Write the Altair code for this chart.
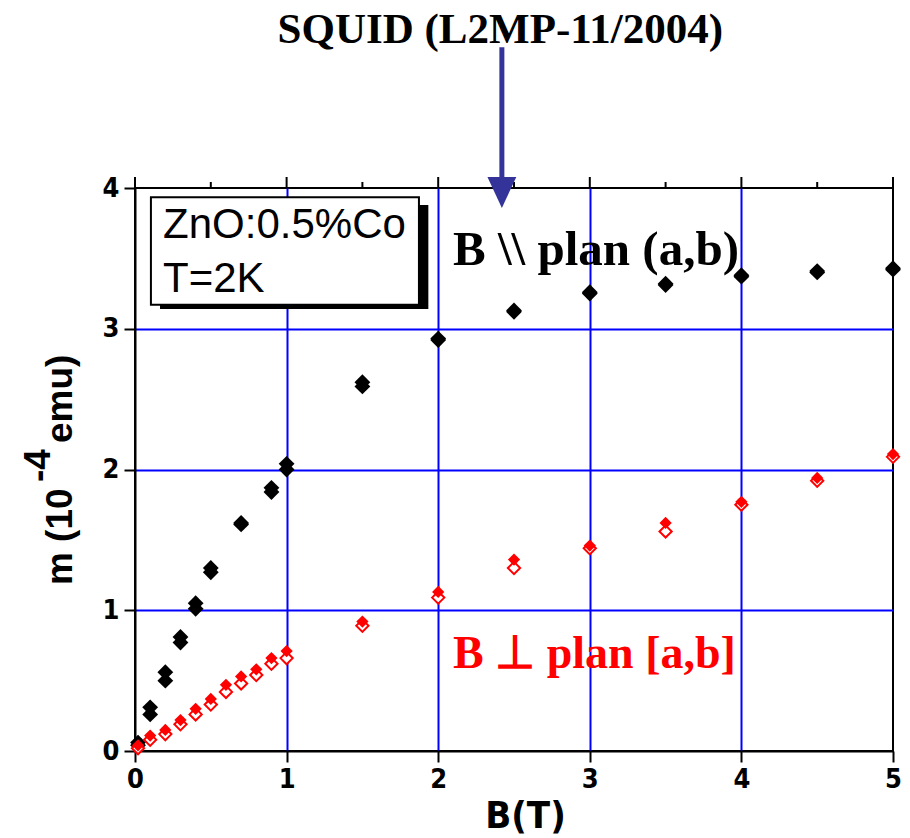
import altair as alt
import pandas as pd

# ---------------- data ----------------
B_par = [0.02, 0.1, 0.2, 0.3, 0.4, 0.5, 0.7, 0.9, 1.0, 1.5, 2.0, 2.5, 3.0, 3.5, 4.0, 4.5, 5.0]
m_par_run1 = [0.06, 0.31, 0.56, 0.81, 1.05, 1.30, 1.62, 1.87, 2.04, 2.62, 2.93, 3.13, 3.26, 3.31, 3.38, 3.40, 3.43]
m_par_run2 = [0.04, 0.26, 0.50, 0.77, 1.01, 1.27, 1.61, 1.84, 2.00, 2.59, 2.92, 3.12, 3.25, 3.32, 3.37, 3.41, 3.42]

B_perp = [0.02, 0.1, 0.2, 0.3, 0.4, 0.5, 0.6, 0.7, 0.8, 0.9, 1.0, 1.5, 2.0, 2.5, 3.0, 3.5, 4.0, 4.5, 5.0]
m_perp_run1 = [0.04, 0.11, 0.15, 0.22, 0.30, 0.37, 0.47, 0.53, 0.58, 0.66, 0.71, 0.92, 1.13, 1.36, 1.46, 1.62, 1.77, 1.94, 2.11]
m_perp_run2 = [0.02, 0.08, 0.12, 0.19, 0.26, 0.33, 0.42, 0.48, 0.54, 0.62, 0.66, 0.89, 1.09, 1.30, 1.44, 1.56, 1.75, 1.92, 2.09]

x_ticks = [0, 0.5, 1, 1.5, 2, 2.5, 3, 3.5, 4, 4.5, 5]
y_ticks = [0, 0.5, 1, 1.5, 2, 2.5, 3, 3.5, 4]

title_text = "SQUID (L2MP-11/2004)"
box_lines = ["ZnO:0.5%Co", "T=2K"]
label_par = "B \\\\ plan (a,b)"
label_perp = "B \u22a5 plan [a,b]"
ytitle_parts = ["m (10", "-4", "emu)"]
xtitle = "B(T)"

# ---------------- tables ----------------
pts = pd.concat([
    pd.DataFrame({"B": B_par, "m": m_par_run1, "s": "par1"}),
    pd.DataFrame({"B": B_par, "m": m_par_run2, "s": "par2"}),
    pd.DataFrame({"B": B_perp, "m": m_perp_run1, "s": "perp1"}),
    pd.DataFrame({"B": B_perp, "m": m_perp_run2, "s": "perp2"}),
], ignore_index=True)
top_ticks = pd.DataFrame({"B": x_ticks})

SANS = "Liberation Sans"
NARROW = "Liberation Sans Narrow, DejaVu Sans Condensed, Liberation Sans"
SERIF = "Liberation Serif"
BLUE = "#0000ff"
NAVY = "#333399"

xs = alt.Scale(domain=[0, 5], nice=False, zero=False)
ys = alt.Scale(domain=[0, 4], nice=False, zero=False)

major = "datum.value % 1 === 0"
tick_size = {"condition": {"test": major, "value": 11}, "value": 6}

x_axis = alt.Axis(
    orient="bottom", values=x_ticks, format="d",
    labelExpr="datum.value % 1 === 0 ? datum.label : ''",
    tickSize=tick_size, tickWidth=2, tickColor="black",
    domainColor="black", domainWidth=2,
    grid=True, gridColor=BLUE, gridWidth=2,
    gridOpacity={"condition": {"test": "datum.value % 1 === 0 && datum.value > 0 && datum.value < 5", "value": 1}, "value": 0},
    labelFont=NARROW, labelFontSize=27, labelFontWeight="bold", labelColor="black",
    labelPadding=4, labelOverlap=False, labelFlush=False,
    title=xtitle, titleFont=NARROW, titleFontSize=38, titleFontWeight="bold", titleColor="black",
    titleX=390, titleY=76, titleBaseline="alphabetic", titleAlign="center",
)
y_axis = alt.Axis(
    orient="left", values=y_ticks, format="d",
    labelExpr="datum.value % 1 === 0 ? datum.label : ''",
    tickSize=tick_size, tickWidth=2, tickColor="black",
    domainColor="black", domainWidth=2,
    grid=True, gridColor=BLUE, gridWidth=2,
    gridOpacity={"condition": {"test": "datum.value % 1 === 0 && datum.value > 0 && datum.value < 4", "value": 1}, "value": 0},
    labelFont=NARROW, labelFontSize=27, labelFontWeight="bold", labelColor="black",
    labelPadding=5, labelOverlap=False, labelFlush=False, labelBaseline="middle",
    title=None,
)

X = lambda f: alt.X(f, scale=xs, axis=x_axis)
Y = lambda f: alt.Y(f, scale=ys, axis=y_axis)

# ---------------- data layers ----------------
base = alt.Chart(pts)

black1 = base.transform_filter("datum.s == 'par1'").mark_point(
    shape="diamond", filled=True, color="black", size=250, opacity=1
).encode(x=X("B:Q"), y=Y("m:Q"))

black2 = base.transform_filter("datum.s == 'par2'").mark_point(
    shape="diamond", filled=True, color="black", size=250, opacity=1
).encode(x=X("B:Q"), y=Y("m:Q"))

red_open = base.transform_filter("datum.s == 'perp2'").mark_point(
    shape="diamond", filled=False, fill="white", stroke="red", strokeWidth=2, size=150, opacity=1
).encode(x=X("B:Q"), y=Y("m:Q"))

red_fill = base.transform_filter("datum.s == 'perp1'").mark_point(
    shape="diamond", filled=True, color="red", size=150, opacity=1
).encode(x=X("B:Q"), y=Y("m:Q"))

# mirrored ticks on the top frame
top_major = alt.Chart(top_ticks).transform_filter("datum.B % 1 === 0").mark_rule(
    color="black", strokeWidth=2
).encode(x=X("B:Q"), y=alt.value(0), y2=alt.value(-11))
top_minor = alt.Chart(top_ticks).transform_filter("datum.B % 1 !== 0").mark_rule(
    color="black", strokeWidth=2
).encode(x=X("B:Q"), y=alt.value(0), y2=alt.value(-6))

# ---------------- annotations (in data units) ----------------
shadow = alt.Chart(pd.DataFrame({"x": [0.165], "x2": [1.935], "y": [3.14], "y2": [3.88]})).mark_rect(
    color="black"
).encode(x=X("x:Q"), x2="x2:Q", y=Y("y:Q"), y2="y2:Q")

box = alt.Chart(pd.DataFrame({"x": [0.105], "x2": [1.873], "y": [3.17], "y2": [3.935]})).mark_rect(
    fill="white", stroke="black", strokeWidth=2
).encode(x=X("x:Q"), x2="x2:Q", y=Y("y:Q"), y2="y2:Q")

box_text = alt.Chart(pd.DataFrame({"x": [0.185, 0.185], "y": [3.645, 3.262], "t": box_lines})).mark_text(
    align="left", baseline="alphabetic", font=SANS, fontSize=42, color="black"
).encode(x=X("x:Q"), y=Y("y:Q"), text="t:N")

par_text = alt.Chart(pd.DataFrame({"x": [2.098], "y": [3.453], "t": [label_par]})).mark_text(
    align="left", baseline="alphabetic", font=SERIF, fontSize=49, fontWeight="bold", color="black"
).encode(x=X("x:Q"), y=Y("y:Q"), text="t:N")

perp_text = alt.Chart(pd.DataFrame({"x": [2.098], "y": [0.59], "t": [label_perp]})).mark_text(
    align="left", baseline="alphabetic", font=SERIF, fontSize=46, fontWeight="bold", color="red"
).encode(x=X("x:Q"), y=Y("y:Q"), text="t:N")

title = alt.Chart(pd.DataFrame({"x": [2.41], "y": [5.03], "t": [title_text]})).mark_text(
    align="center", baseline="alphabetic", font=SERIF, fontSize=43, fontWeight="bold", color="black"
).encode(x=X("x:Q"), y=Y("y:Q"), text="t:N")

shaft = alt.Chart(pd.DataFrame({"x": [2.42], "y": [5.0], "y2": [4.05]})).mark_rule(
    color=NAVY, strokeWidth=5
).encode(x=X("x:Q"), y=Y("y:Q"), y2="y2:Q")

head = alt.Chart(pd.DataFrame({"x": [2.42], "y": [3.968]})).mark_point(
    shape="M-0.93,-1L0.93,-1L0,1Z", size=961, filled=True, color=NAVY, opacity=1
).encode(x=X("x:Q"), y=Y("y:Q"))

ytitle = alt.Chart(pd.DataFrame({
    "x": [-0.4156, -0.5607, -0.4156],
    "y": [1.179, 1.911, 2.188],
    "t": ytitle_parts,
})).mark_text(
    align="left", baseline="alphabetic", angle=270, font=SANS, fontSize=37, fontWeight="bold", color="black"
).encode(x=X("x:Q"), y=Y("y:Q"), text="t:N")

chart = alt.layer(
    black1, top_major, top_minor, shadow, box, box_text, par_text, perp_text, title, shaft, head, ytitle,
    black2, red_open, red_fill,
).properties(
    width=758, height=563,
    autosize=alt.AutoSizeParams(type="none"),
    padding={"left": 135, "top": 188, "right": 17, "bottom": 87},
    background="white",
).configure_view(stroke="black", strokeWidth=2)

chart.save("out.html", embed_options={"renderer": "svg", "actions": False})
